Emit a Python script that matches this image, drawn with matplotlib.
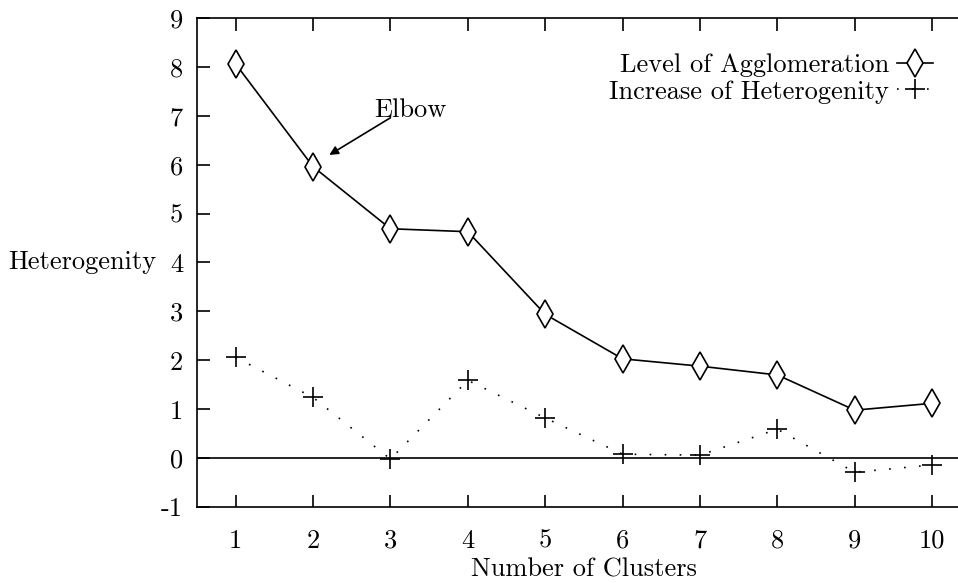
import matplotlib.pyplot as plt
from matplotlib.lines import Line2D

plt.rcParams['font.family'] = ['cmr10', 'DejaVu Serif']
plt.rcParams['axes.formatter.use_mathtext'] = True

clusters = [1, 2, 3, 4, 5, 6, 7, 8, 9, 10]
agglomeration = [8.06, 5.96, 4.69, 4.63, 2.94, 2.03, 1.88, 1.70, 0.98, 1.12]
increase = [2.06, 1.24, -0.02, 1.59, 0.82, 0.08, 0.06, 0.59, -0.29, -0.14]
yticks = [-1, 0, 1, 2, 3, 4, 5, 6, 7, 8, 9]
xticks = [1, 2, 3, 4, 5, 6, 7, 8, 9, 10]

FS = 19
LW = 1.2
dots = (0, (1, 8))

fig = plt.figure(figsize=(9.58, 5.83), dpi=100)
# the scanned plot is cut at the right border, so the axes end at the figure edge
ax = fig.add_axes([0.2056, 0.1304, 0.7965, 0.8387])

ax.plot(clusters, agglomeration, color='black', lw=LW, marker='d',
        markersize=14, markerfacecolor='white', markeredgecolor='black',
        markeredgewidth=LW, label='Level of Agglomeration', zorder=3)
ax.plot(clusters, increase, color='black', lw=LW, linestyle=dots,
        marker='+', markersize=15, markeredgewidth=LW,
        label='Increase of Heterogenity', zorder=3)
ax.axhline(0, color='black', lw=LW)

ax.set_xlim(0.5, 10.36)
ax.set_ylim(-1, 9)
ax.set_xticks(xticks)
ax.set_xticklabels([str(v) for v in xticks])
ax.set_yticks(yticks)
ax.set_yticklabels([str(v) for v in yticks])
ax.tick_params(axis='x', direction='in', length=9, width=LW, top=True,
               labelsize=FS, pad=16)
ax.tick_params(axis='y', direction='in', length=9, width=LW,
               labelsize=FS, pad=10)
for s in ax.spines.values():
    s.set_linewidth(LW)
ax.spines['right'].set_visible(False)

ax.set_xlabel('Number of Clusters', fontsize=FS)
ax.xaxis.set_label_coords(0.507, -0.104)
ax.text(-0.0526, 0.5, 'Heterogenity', transform=ax.transAxes, fontsize=FS,
        ha='right', va='center')

ax.text(3.26, 7.12, 'Elbow', fontsize=FS, ha='center', va='center')
ax.annotate('', xy=(2.21, 6.2), xytext=(3.0, 6.96),
            arrowprops=dict(arrowstyle='-|>', color='black', lw=LW,
                            mutation_scale=13, shrinkA=0, shrinkB=0))

handles = [
    Line2D([], [], color='black', lw=LW, marker='d', markersize=14,
           markerfacecolor='white', markeredgewidth=LW),
    Line2D([], [], color='black', lw=LW, linestyle=dots, marker='+',
           markersize=15, markeredgewidth=LW),
]
fig.legend(handles, ['Level of Agglomeration', 'Increase of Heterogenity'],
           loc='upper right', bbox_to_anchor=(0.988, 0.931), frameon=False,
           markerfirst=False, fontsize=FS, handlelength=1.37, numpoints=1,
           labelspacing=0.1, handletextpad=0.3, borderpad=0)

fig.savefig('out.png', dpi=100)
